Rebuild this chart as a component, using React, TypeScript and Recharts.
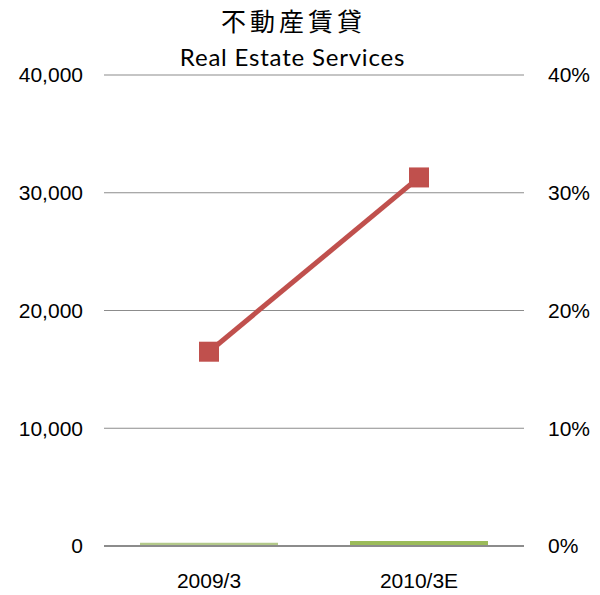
import React from "react";
import { ComposedChart, Bar, Line, XAxis, YAxis, CartesianGrid, Cell } from "recharts";

const categories = ["2009/3", "2010/3E"];
const barValues = [0.0028, 0.0042];
const lineValues = [16500, 31300];
const leftTicks = [0, 10000, 20000, 30000, 40000];
const rightTicks = [0, 0.1, 0.2, 0.3, 0.4];
const barColors = ["#b3c98a", "#9bbb59"];

const data = categories.map((c, i) => ({ name: c, bar: barValues[i], line: lineValues[i] }));

const SquareDot = (props: any) => {
  const { cx, cy } = props;
  if (cx == null || cy == null) return null;
  return <rect x={cx - 10} y={cy - 10} width={20} height={20} fill="#c0504d" />;
};

const tickStyle = { fontFamily: "Liberation Sans, Arial, sans-serif", fontSize: 21, fill: "#000" };

export default function App() {
  return (
    <div style={{ position: "absolute", left: 0, top: 0, width: 600, height: 595, background: "#fff" }}>
      <div style={{ position: "absolute", left: 0, width: 587, top: 8, textAlign: "center", fontFamily: "'Noto Sans CJK JP', sans-serif", fontSize: 25, lineHeight: "25px", letterSpacing: 4, color: "#000", whiteSpace: "nowrap" }}>
        不動産賃貸
      </div>
      <div style={{ position: "absolute", left: 0, width: 585, top: 42, textAlign: "center", fontFamily: "Lato, 'Open Sans', sans-serif", fontSize: 24, lineHeight: "30px", letterSpacing: 0.8, color: "#000", whiteSpace: "nowrap" }}>
        Real Estate Services
      </div>
      <ComposedChart
        width={600}
        height={595}
        data={data}
        margin={{ top: 75, right: 0, bottom: 0, left: 0 }}
        barCategoryGap="17%"
      >
        <CartesianGrid yAxisId="left" horizontal vertical={false} stroke="#8c8c8c" strokeWidth={1.2} />
        <XAxis
          dataKey="name"
          height={49}
          tickLine={false}
          axisLine={{ stroke: "#8c8c8c", strokeWidth: 2 }}
          tick={tickStyle}
          tickMargin={27}
          tickSize={0}
        />
        <YAxis
          yAxisId="left"
          width={104}
          domain={[0, 40000]}
          ticks={leftTicks}
          tickFormatter={(v: number) => v.toLocaleString("en-US")}
          axisLine={false}
          tickLine={false}
          tickSize={0}
          tickMargin={21}
          tick={tickStyle}
        />
        <YAxis
          yAxisId="right"
          orientation="right"
          width={76}
          domain={[0, 0.4]}
          ticks={rightTicks}
          tickFormatter={(v: number) => `${Math.round(v * 100)}%`}
          axisLine={false}
          tickLine={false}
          tickSize={0}
          tickMargin={24}
          tick={{ ...tickStyle, textAnchor: "start" }}
        />
        <Bar yAxisId="right" dataKey="bar" barSize={138} isAnimationActive={false}>
          {data.map((d, i) => (
            <Cell key={d.name} fill={barColors[i]} />
          ))}
        </Bar>
        <Line
          yAxisId="left"
          dataKey="line"
          stroke="#c0504d"
          strokeWidth={5}
          dot={<SquareDot />}
          activeDot={false}
          isAnimationActive={false}
        />
      </ComposedChart>
    </div>
  );
}
